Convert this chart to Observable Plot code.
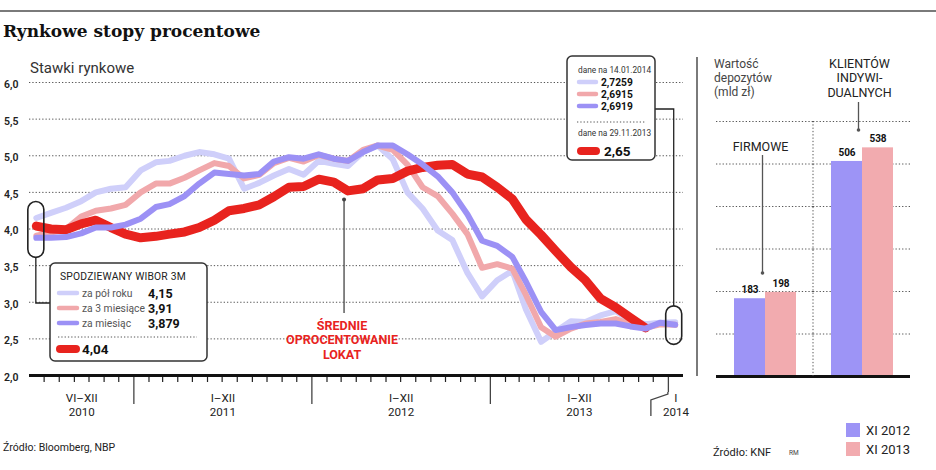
<!DOCTYPE html>
<html>
<head>
<meta charset="utf-8">
<script src="https://cdn.jsdelivr.net/npm/d3@7"></script>
<script src="https://cdn.jsdelivr.net/npm/@observablehq/plot@0.6"></script>
<style>
  body { margin: 0; background: #fff; }
  #chart { position: relative; width: 936px; height: 470px; overflow: hidden; background: #fff; }
  #chart > svg { position: absolute; left: 0; top: 0; }
</style>
</head>
<body>
<div id="chart"></div>
<script>
// ---- Market rates (monthly, VI 2010 – I 2014), % ----
const wibor6m = [4.15,4.22,4.29,4.38,4.50,4.55,4.57,4.80,4.91,4.93,5.00,5.05,5.02,4.96,4.55,4.63,4.73,4.82,4.74,4.93,4.89,4.86,5.05,5.14,4.95,4.50,4.28,3.98,3.85,3.40,3.08,3.30,3.43,2.90,2.46,2.60,2.74,2.73,2.82,2.88,2.75,2.70,2.72,2.7259];
const wibor3m = [3.91,3.95,4.00,4.17,4.25,4.28,4.33,4.50,4.62,4.62,4.70,4.80,4.90,4.86,4.69,4.74,4.90,4.97,4.92,5.01,4.96,4.93,5.08,5.14,5.08,4.88,4.57,4.45,4.21,3.93,3.47,3.52,3.46,3.10,2.66,2.53,2.64,2.71,2.73,2.77,2.70,2.65,2.70,2.6915];
const wibor1m = [3.879,3.88,3.89,3.94,4.02,4.02,4.06,4.14,4.30,4.34,4.45,4.62,4.77,4.75,4.73,4.75,4.92,4.98,4.96,5.02,4.96,4.93,5.05,5.14,5.14,5.02,4.88,4.72,4.50,4.20,3.84,3.77,3.62,3.28,2.87,2.62,2.66,2.69,2.71,2.71,2.67,2.64,2.72,2.6919];
// average deposit rate, VI 2010 – XI 2013
const lokaty  = [4.04,4.00,3.99,4.07,4.12,4.02,3.93,3.88,3.90,3.93,3.96,4.02,4.12,4.25,4.28,4.33,4.44,4.57,4.58,4.68,4.64,4.52,4.55,4.67,4.69,4.79,4.84,4.87,4.88,4.75,4.71,4.57,4.41,4.13,3.92,3.70,3.48,3.30,3.05,2.93,2.79,2.65];

const seriesNames = ["za pół roku", "za 3 miesiące", "za miesiąc"];
const yTicks = [2.0, 2.5, 3.0, 3.5, 4.0, 4.5, 5.0, 5.5, 6.0];
const periodLabels = ["VI–XII", "I–XII", "I–XII", "I–XII", "I"];
const periodYears = ["2010", "2011", "2012", "2013", "2014"];

// ---- Deposits (mld zł) ----
const depositGroups = ["FIRMOWE", "KLIENTÓW INDYWIDUALNYCH"];
const depositPeriods = ["XI 2012", "XI 2013"];
const depFirmowe = [183, 198];
const depIndywidualni = [506, 538];
const depTicks = [0, 100, 200, 300, 400, 500, 600];

// ---- Styling ----
const FONT = "Roboto, 'Liberation Sans', sans-serif";
const C6M = "#cfcffa", C3M = "#f1a8ab", C1M = "#9c91f5", CLOK = "#e8231e";
const BAR_BLUE = "#9d94f6", BAR_PINK = "#f2abaf";
const plPL = v => String(v).replace(".", ",");

// month grid
const monthStarts = d3.utcMonth.range(new Date(Date.UTC(2010, 5, 1)), new Date(Date.UTC(2014, 1, 1)));
const pointDates = monthStarts.map(m => d3.utcDay.offset(m, 14));
const toRows = arr => arr.map((v, i) => ({date: pointDates[i], value: v}));
const xDomain = [monthStarts[0], d3.utcMonth.offset(monthStarts[monthStarts.length - 1], 1)];
const yearStarts = monthStarts.filter(d => d.getUTCMonth() === 0);
const smallTicks = monthStarts.slice(1).filter(d => d.getUTCMonth() !== 0);
const periods = periodYears.map((y, i) => {
  const start = i === 0 ? xDomain[0] : new Date(Date.UTC(+y, 0, 1));
  const end = i === periodYears.length - 1 ? xDomain[1] : new Date(Date.UTC(+y + 1, 0, 1));
  return {mid: new Date((+start + +end) / 2), label: periodLabels[i] + "\n" + y};
});

const chart = d3.select("#chart");

// ---- Left: market rates ----
const left = Plot.plot({
  width: 700, height: 470,
  marginLeft: 29, marginRight: 17, marginTop: 82, marginBottom: 95,
  x: {type: "utc", domain: xDomain},
  y: {domain: [2, 6]},
  style: {fontFamily: FONT, fontSize: "12px", color: "#222", background: "transparent", overflow: "visible"},
  marks: [
    Plot.gridY(yTicks.filter(v => v > 2), {stroke: "#555", strokeOpacity: 1, strokeWidth: 1, strokeDasharray: "1.3,2"}),
    Plot.axisY({ticks: yTicks, tickSize: 0, tickPadding: 11, tickFormat: d => d3.format(".1f")(d).replace(".", ","), fontSize: 10.5, fontWeight: 600, dy: 2, label: null}),
    Plot.axisX({ticks: smallTicks, tickSize: 7, fill: "none", label: null, stroke: "#222", strokeWidth: 1.2}),
    Plot.axisX({ticks: yearStarts.slice(0, -1), tickSize: 29, fill: "none", label: null, stroke: "#444", strokeWidth: 1.3}),
    Plot.axisX({ticks: yearStarts.slice(-1), tickSize: 17, fill: "none", label: null, stroke: "#444", strokeWidth: 1.3}),
    Plot.ruleY([2], {stroke: "#111", strokeWidth: 3}),
    Plot.line(toRows(wibor6m), {x: "date", y: "value", stroke: C6M, strokeWidth: 6, strokeLinejoin: "round", strokeLinecap: "round"}),
    Plot.line(toRows(wibor3m), {x: "date", y: "value", stroke: C3M, strokeWidth: 6, strokeLinejoin: "round", strokeLinecap: "round"}),
    Plot.line(toRows(lokaty), {x: "date", y: "value", stroke: CLOK, strokeWidth: 9, strokeLinejoin: "round", strokeLinecap: "round"}),
    Plot.line(toRows(wibor1m), {x: "date", y: "value", stroke: C1M, strokeWidth: 6, strokeLinejoin: "round", strokeLinecap: "round"}),
    Plot.text(periods, {x: "mid", text: "label", frameAnchor: "bottom", lineAnchor: "top", dy: 17, lineHeight: 1.19, fontSize: 11.6, fill: "#222"})
  ]
});
chart.node().appendChild(left);

// ---- Right: deposits ----
const barRows = depositGroups.flatMap((g, gi) =>
  depositPeriods.map((p, pi) => ({group: g, period: p, value: [depFirmowe, depIndywidualni][gi][pi]})));
const RIGHT_X = 700, RW = 236, RML = 16, RMR = 26, RMT = 121, RMB = 94;
const right = Plot.plot({
  width: RW, height: 470,
  marginLeft: RML, marginRight: RMR, marginTop: RMT, marginBottom: RMB,
  fx: {domain: depositGroups, padding: 0, axis: null},
  x: {domain: depositPeriods, paddingInner: 0, paddingOuter: 0.54, axis: null},
  y: {domain: [0, 600], axis: null},
  color: {domain: depositPeriods, range: [BAR_BLUE, BAR_PINK]},
  style: {fontFamily: FONT, background: "transparent", overflow: "visible"},
  marks: [
    Plot.gridY(depTicks.filter(v => v > 0), {stroke: "#555", strokeOpacity: 1, strokeWidth: 1, strokeDasharray: "1.3,2"}),
    Plot.barY(barRows, {fx: "group", x: "period", y: "value", fill: "period"}),
    Plot.text(barRows, {fx: "group", x: "period", y: "value", text: d => String(d.value), dy: -9, fontSize: 10, fontWeight: 700, fill: "#111"}),
    Plot.ruleY([0], {stroke: "#111", strokeWidth: 3})
  ]
});
right.style.left = RIGHT_X + "px";
chart.node().appendChild(right);

// ---- Annotations ----
const sx = left.scale("x"), sy = left.scale("y");
const X = d => sx.apply(d), Y = v => sy.apply(v);

const ov = chart.append("svg").attr("width", 936).attr("height", 470)
  .style("font-family", FONT).style("pointer-events", "none");

function txt(x, y, s, o = {}) {
  const t = ov.append("text").attr("x", x).attr("y", y).attr("dominant-baseline", "central").text(s);
  for (const k in o) t.attr(k, o[k]);
  return t;
}
// several lines in one text element, first line centred on y
function lines(x, y, arr, step, o = {}) {
  const t = ov.append("text").attr("x", x).attr("y", y);
  for (const k in o) t.attr(k, o[k]);
  arr.forEach((s, i) => t.append("tspan").attr("x", x).attr("y", y + i * step)
    .attr("dominant-baseline", "central").text(s));
  return t;
}
function seg(x1, y1, x2, y2, o = {}) {
  const l = ov.append("line").attr("x1", x1).attr("y1", y1).attr("x2", x2).attr("y2", y2)
    .attr("stroke", "#333").attr("stroke-width", 1.3);
  for (const k in o) l.attr(k, o[k]);
  return l;
}

// top rule + title
seg(0, 11, 936, 11, {stroke: "#7a7a7a", "stroke-width": 2});
ov.append("text").attr("x", 3).attr("y", 37).text("Rynkowe stopy procentowe")
  .attr("font-family", "'DejaVu Serif', serif").attr("font-weight", 700).attr("font-size", 17).attr("fill", "#111");
txt(30, 68, "Stawki rynkowe", {"font-size": 15, fill: "#333"});
txt(3, 447, "Źródło: Bloomberg, NBP", {"font-size": 10.5, fill: "#222"});

// odd-shaped tick for I 2014
const x2014 = X(yearStarts[yearStarts.length - 1]);
ov.append("path").attr("d", `M${x2014},392 L${x2014},394 L${x2014 - 17},400 L${x2014 - 17},416`)
  .attr("fill", "none").attr("stroke", "#444").attr("stroke-width", 1.3);

// capsule around first and last readings
const firsts = [wibor6m[0], wibor3m[0], wibor1m[0], lokaty[0]];
const lasts = [wibor6m.at(-1), wibor3m.at(-1), wibor1m.at(-1)];
const lx = X(pointDates[0]), lTop = Y(d3.max(firsts)) - 16, lBot = Y(d3.min(firsts)) + 20;
const rx = X(pointDates[pointDates.length - 1]) - 1, rTop = Y(d3.max(lasts)) - 16, rBot = Y(d3.min(lasts)) + 20;
for (const [cx, t, b] of [[lx, lTop, lBot], [rx, rTop, rBot]]) {
  ov.append("rect").attr("x", cx - 8).attr("y", t).attr("width", 16).attr("height", b - t)
    .attr("rx", 8).attr("fill", "none").attr("stroke", "#222").attr("stroke-width", 1.6);
}

// lower-left legend box
const LB = {x: 50, y: 263, w: 157, h: 98};
ov.append("path").attr("d", `M${lx},${lBot} V${LB.y + 40} H${LB.x}`).attr("fill", "none").attr("stroke", "#222").attr("stroke-width", 1.3);
ov.append("rect").attr("x", LB.x).attr("y", LB.y).attr("width", LB.w).attr("height", LB.h).attr("rx", 5)
  .attr("fill", "#fff").attr("stroke", "#333").attr("stroke-width", 1.5);
txt(LB.x + 10, LB.y + 13, "SPODZIEWANY WIBOR 3M", {"font-size": 10.3, fill: "#222", "letter-spacing": 0.2});
const legendRows = [[C6M, seriesNames[0], wibor6m[0]], [C3M, seriesNames[1], wibor3m[0]], [C1M, seriesNames[2], wibor1m[0]]];
legendRows.forEach(([c, name, v], i) => {
  const y = LB.y + 30 + i * 15;
  seg(LB.x + 9, y, LB.x + 27, y, {stroke: c, "stroke-width": 4.5, "stroke-linecap": "round"});
  txt(LB.x + 32, y, name, {"font-size": 10.3, fill: "#555"});
  txt(LB.x + 98, y, plPL(v), {"font-size": 12.5, "font-weight": 700, fill: "#111"});
});
seg(LB.x + 8, LB.y + 74, LB.x + 147, LB.y + 74, {stroke: "#555", "stroke-width": 1, "stroke-dasharray": "1.3,2"});
seg(LB.x + 10, LB.y + 86, LB.x + 26, LB.y + 86, {stroke: CLOK, "stroke-width": 8, "stroke-linecap": "round"});
txt(LB.x + 32, LB.y + 86, plPL(lokaty[0]), {"font-size": 13.5, "font-weight": 700, fill: "#111"});

// upper-right legend box
const RB = {x: 567, y: 56, w: 88, h: 104};
ov.append("path").attr("d", `M${RB.x + RB.w},${RB.y + 53} H${rx} V${rTop}`).attr("fill", "none").attr("stroke", "#222").attr("stroke-width", 1.3);
ov.append("rect").attr("x", RB.x).attr("y", RB.y).attr("width", RB.w).attr("height", RB.h).attr("rx", 5)
  .attr("fill", "#fff").attr("stroke", "#333").attr("stroke-width", 1.5);
txt(RB.x + 11, RB.y + 14, "dane na 14.01.2014", {"font-size": 8.3, fill: "#333"});
[[C6M, wibor6m.at(-1)], [C3M, wibor3m.at(-1)], [C1M, wibor1m.at(-1)]].forEach(([c, v], i) => {
  const y = RB.y + 26 + i * 12;
  seg(RB.x + 12, y, RB.x + 29, y, {stroke: c, "stroke-width": 4.5, "stroke-linecap": "round"});
  txt(RB.x + 34, y, plPL(v), {"font-size": 10.2, "font-weight": 700, fill: "#111"});
});
seg(RB.x + 10, RB.y + 66, RB.x + 78, RB.y + 66, {stroke: "#555", "stroke-width": 1, "stroke-dasharray": "1.3,2"});
txt(RB.x + 11, RB.y + 77, "dane na 29.11.2013", {"font-size": 8.3, fill: "#333"});
seg(RB.x + 14, RB.y + 95, RB.x + 29, RB.y + 95, {stroke: CLOK, "stroke-width": 8, "stroke-linecap": "round"});
txt(RB.x + 37, RB.y + 95, plPL(lokaty.at(-1)), {"font-size": 13.5, "font-weight": 700, fill: "#111"});

// deposit-rate callout
const calloutIdx = 21;
const cx0 = X(d3.utcDay.offset(monthStarts[calloutIdx], 7));
const cTop = Y(lokaty[calloutIdx]) + 9;
seg(cx0, cTop, cx0, 313, {stroke: "#444", "stroke-width": 1.3});
ov.append("circle").attr("cx", cx0).attr("cy", cTop).attr("r", 2).attr("fill", "#444");
lines(cx0 - 2, 325, ["ŚREDNIE", "OPROCENTOWANIE", "LOKAT"], 14.7,
  {"font-size": 12.5, "font-weight": 700, fill: CLOK, "text-anchor": "middle"});

// ---- right panel annotations ----
seg(697, 57, 697, 376, {stroke: "#7a7a7a", "stroke-width": 2});
const frameL = RIGHT_X + RML, frameR = RIGHT_X + RW - RMR;
const divX = (frameL + frameR) / 2;
seg(divX, RMT, divX, 470 - RMB, {stroke: "#555", "stroke-width": 1, "stroke-dasharray": "1.3,2"});
lines(714, 64, ["Wartość", "depozytów", "(mld zł)"], 14.1, {"font-size": 12, fill: "#444"});

const grpCenter = i => frameL + (frameR - frameL) * (i + 0.5) / 2;
txt(grpCenter(0) - 4, 146, "FIRMOWE", {"font-size": 12.5, fill: "#222", "text-anchor": "middle"});
seg(grpCenter(0) - 2, 155, grpCenter(0) - 2, 273, {stroke: "#555", "stroke-width": 1.3});
ov.append("circle").attr("cx", grpCenter(0) - 2).attr("cy", 273).attr("r", 1.8).attr("fill", "#555");
lines(grpCenter(1) - 2, 63, ["KLIENTÓW", "INDYWI-", "DUALNYCH"], 14.7, {"font-size": 12.5, fill: "#222", "text-anchor": "middle"});
seg(grpCenter(1) - 3, 102, grpCenter(1) - 3, 130, {stroke: "#555", "stroke-width": 1.3});
ov.append("circle").attr("cx", grpCenter(1) - 3).attr("cy", 130).attr("r", 1.8).attr("fill", "#555");

// legend for bars
[[BAR_BLUE, depositPeriods[0]], [BAR_PINK, depositPeriods[1]]].forEach(([c, s], i) => {
  const y = 423 + i * 19;
  ov.append("rect").attr("x", 846).attr("y", y).attr("width", 14).attr("height", 14).attr("fill", c);
  txt(866, y + 7, s, {"font-size": 13, fill: "#222"});
});
txt(713, 452, "Źródło: KNF", {"font-size": 11, fill: "#222"});
txt(789, 453, "RM", {"font-size": 6.5, fill: "#444"});
</script>
</body>
</html>
